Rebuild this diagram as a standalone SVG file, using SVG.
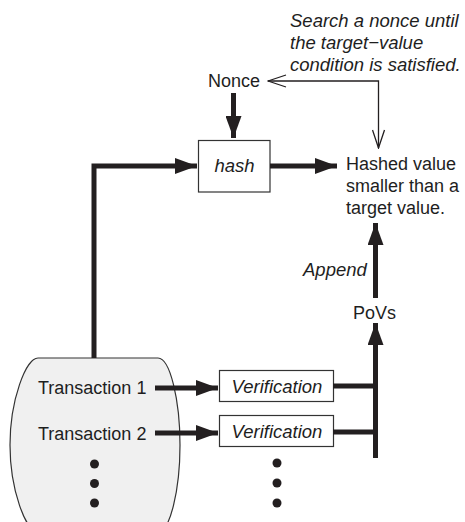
<svg xmlns="http://www.w3.org/2000/svg" width="465" height="522" viewBox="0 0 465 522">
  <style>
    text { font-family: "Liberation Sans", Arial, sans-serif; font-size: 18px; fill: #1e1e1e; }
    .it { font-style: italic; font-size: 18.5px; }
    .mid { text-anchor: middle; }
    .box { fill: #fff; stroke: #333; stroke-width: 1.2; }
    .thick { fill: none; stroke: #231f20; stroke-width: 5; }
    .thin { fill: none; stroke: #231f20; stroke-width: 1.3; }
    .dot { fill: #231f20; }
  </style>
  <defs>
    <marker id="head" viewBox="0 0 22 16" refX="22" refY="8" markerWidth="22" markerHeight="16" markerUnits="userSpaceOnUse" orient="auto">
      <path d="M0,0 L22,8 L0,16 Z" fill="#231f20"/>
    </marker>
    <marker id="open" viewBox="-1 -1 20 14" refX="18" refY="6" markerWidth="20" markerHeight="14" markerUnits="userSpaceOnUse" orient="auto-start-reverse">
      <path d="M0,0 L18,6 L0,12" fill="none" stroke="#231f20" stroke-width="1.3"/>
    </marker>
  </defs>

  <!-- transactions pool -->
  <g id="transactions">
    <path d="M38,358 H158 C170,358 180,400 180,445 C180,490 170,532 158,532 H38 C26,532 10,490 10,445 C10,400 26,358 38,358 Z" fill="#f0f0f0" stroke="#333" stroke-width="1.2"/>
    <text x="38" y="394">Transaction 1</text>
    <text x="38" y="440">Transaction 2</text>
    <circle class="dot" cx="94.5" cy="464" r="4.5"/>
    <circle class="dot" cx="94.5" cy="483.5" r="4.5"/>
    <circle class="dot" cx="94.5" cy="503" r="4.5"/>
  </g>

  <g id="verification1">
    <rect class="box" x="219.5" y="370.5" width="114" height="31"/>
    <text class="it mid" x="277" y="393">Verification</text>
  </g>
  <g id="verification2">
    <rect class="box" x="219.5" y="415.5" width="114" height="31"/>
    <text class="it mid" x="277" y="438">Verification</text>
  </g>
  <g id="verification-more">
    <circle class="dot" cx="277" cy="463" r="4.5"/>
    <circle class="dot" cx="277" cy="483" r="4.5"/>
    <circle class="dot" cx="277" cy="503" r="4.5"/>
  </g>

  <g id="hash">
    <rect class="box" x="198.5" y="140.5" width="71.5" height="51.5"/>
    <text class="it mid" x="234.5" y="172">hash</text>
  </g>

  <g id="nonce">
    <text x="208" y="87">Nonce</text>
  </g>

  <g id="search-note">
    <text class="it" x="290" y="27">Search a nonce until</text>
    <text class="it" x="290" y="49">the target−value</text>
    <text class="it" x="290" y="71">condition is satisfied.</text>
  </g>

  <g id="hashed-value">
    <text x="346" y="170">Hashed value</text>
    <text x="346" y="192">smaller than a</text>
    <text x="346" y="214">target value.</text>
  </g>

  <g id="povs">
    <text x="353" y="319">PoVs</text>
  </g>

  <g id="connectors">
    <path class="thick" d="M94,358 V166 H197" marker-end="url(#head)"/>
    <path class="thick" d="M233.5,93 V138" marker-end="url(#head)"/>
    <path class="thick" d="M270,166 H337" marker-end="url(#head)"/>
    <path class="thick" d="M375.5,298 V223" marker-end="url(#head)"/>
    <path class="thick" d="M375.5,458 V323" marker-end="url(#head)"/>
    <path class="thick" d="M155,388 H218" marker-end="url(#head)"/>
    <path class="thick" d="M155,433 H218" marker-end="url(#head)"/>
    <path class="thick" d="M333,386 H375.5 M333,432 H375.5"/>
    <path class="thin" d="M268,81 H378.5 V148" marker-start="url(#open)" marker-end="url(#open)"/>
    <text class="it" x="303" y="276">Append</text>
  </g>
</svg>
